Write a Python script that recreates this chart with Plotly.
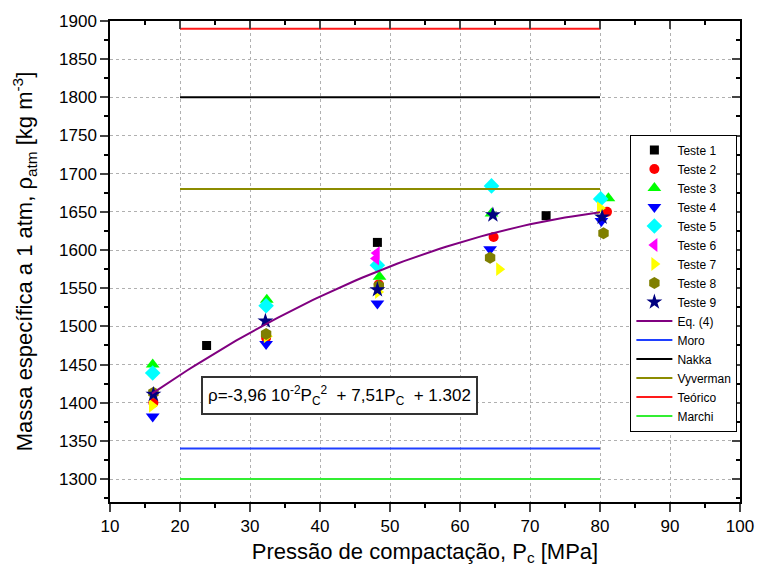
import plotly.graph_objects as go

# ---- data ----
t1_x = [23.8, 48.2, 72.3]
t1_y = [1475, 1610, 1645]
t2_x = [16.2, 32.3, 48.4, 64.8, 81.0]
t2_y = [1400, 1485, 1555, 1617, 1650]
t3_x = [16.1, 32.4, 48.5, 64.5, 81.2]
t3_y = [1450, 1535, 1565, 1648, 1668]
t4_x = [16.1, 32.3, 48.2, 64.3, 80.2]
t4_y = [1382, 1477, 1530, 1601, 1638]
t5_x = [16.1, 32.3, 48.2, 64.5, 80.1]
t5_y = [1439, 1527, 1580, 1684, 1667]
t6_x = [48.1, 48.0]
t6_y = [1596, 1589]
t7_x = [16.0, 32.4, 48.3, 65.6, 80.0]
t7_y = [1396, 1487, 1545, 1575, 1655]
t8_x = [16.2, 32.3, 48.4, 64.3, 80.5]
t8_y = [1413, 1490, 1553, 1590, 1622]
t9_x = [16.2, 32.2, 48.2, 64.7, 80.3]
t9_y = [1411, 1507, 1548, 1646, 1643]

eq_coef = [-3.96e-2, 7.51, 1302]
eq_x_range = [16, 80]

ref_names = ["Moro", "Nakka", "Vyverman", "Teórico", "Marchi"]
ref_values = [1340, 1800, 1680, 1890, 1300]
ref_colors = ["#1f3fff", "#000000", "#8c8c00", "#ff1a1a", "#33ee33"]
ref_x = [20, 80]

tests = [
    ("Teste 1", t1_x, t1_y, "square", "#000000", 9),
    ("Teste 2", t2_x, t2_y, "circle", "#ff0000", 10),
    ("Teste 3", t3_x, t3_y, "triangle-up", "#00ff00", 12),
    ("Teste 4", t4_x, t4_y, "triangle-down", "#0000ff", 12),
    ("Teste 5", t5_x, t5_y, "diamond", "#00ffff", 12),
    ("Teste 6", t6_x, t6_y, "triangle-left", "#ff00ff", 12),
    ("Teste 7", t7_x, t7_y, "triangle-right", "#ffff00", 12),
    ("Teste 8", t8_x, t8_y, "hexagon", "#7f7f00", 12),
    ("Teste 9", t9_x, t9_y, "star", "#000080", 12),
]

fig = go.Figure()
for name, xs, ys, sym, col, sz in tests:
    fig.add_trace(go.Scatter(x=xs, y=ys, mode="markers", name=name,
                             marker=dict(symbol=sym, color=col, size=sz, line=dict(width=0))))

n = 65
ex = [eq_x_range[0] + (eq_x_range[1] - eq_x_range[0]) * i / (n - 1) for i in range(n)]
ey = [eq_coef[0] * v * v + eq_coef[1] * v + eq_coef[2] for v in ex]
fig.add_trace(go.Scatter(x=ex, y=ey, mode="lines", name="Eq. (4)",
                         line=dict(color="#800080", width=2)))

for name, val, col in zip(ref_names, ref_values, ref_colors):
    fig.add_trace(go.Scatter(x=ref_x, y=[val, val], mode="lines", name=name,
                             line=dict(color=col, width=2)))

# invisible trace for mirror axes
fig.add_trace(go.Scatter(x=[50], y=[1500], xaxis="x2", yaxis="y2", mode="markers",
                         marker=dict(opacity=0), showlegend=False, hoverinfo="skip"))

font_family = "Liberation Sans, Arial, sans-serif"

fig.update_layout(
    width=766, height=572,
    margin=dict(l=110, r=16, t=21, b=67),
    paper_bgcolor="white", plot_bgcolor="white",
    font=dict(family=font_family, color="black", size=17),
    showlegend=True,
    legend=dict(x=0.826, y=0.764, xanchor="left", yanchor="top",
                bordercolor="black", borderwidth=1, bgcolor="white",
                font=dict(size=12, family=font_family), itemwidth=36,
                tracegroupgap=0),
    xaxis=dict(range=[10, 100], dtick=10, tick0=0, ticks="outside", ticklen=8,
               tickwidth=1.5, showline=True, linecolor="black", linewidth=1.5,
               showgrid=True, gridcolor="#b0b0b0", griddash="dot", gridwidth=1,
               zeroline=False,
               minor=dict(ticks="outside", ticklen=4, dtick=5, tickcolor="black", showgrid=False),
               title=dict(text="Pressão de compactação, P<sub>c</sub> [MPa]",
                          font=dict(size=22), standoff=8),
               tickfont=dict(size=17)),
    yaxis=dict(range=[1270, 1900], dtick=50, tick0=0, ticks="outside", ticklen=8,
               tickwidth=1.5, showline=True, linecolor="black", linewidth=1.5,
               showgrid=True, gridcolor="#b0b0b0", griddash="dot", gridwidth=1,
               zeroline=False,
               minor=dict(ticks="outside", ticklen=4, dtick=25, tickcolor="black", showgrid=False),
               title=dict(text="Massa específica a 1 atm, ρ<sub>atm</sub> [kg m<sup>-3</sup>]",
                          font=dict(size=22), standoff=20),
               tickfont=dict(size=17)),
    xaxis2=dict(range=[10, 100], dtick=10, tick0=0, overlaying="x", side="top",
                ticks="inside", ticklen=8, tickwidth=1.5, showline=True, linecolor="black",
                linewidth=1.5, showticklabels=False, showgrid=False, zeroline=False,
                minor=dict(ticks="inside", ticklen=4, dtick=5, tickcolor="black")),
    yaxis2=dict(range=[1270, 1900], dtick=50, tick0=0, overlaying="y", side="right",
                ticks="inside", ticklen=8, tickwidth=1.5, showline=True, linecolor="black",
                linewidth=1.5, showticklabels=False, showgrid=False, zeroline=False,
                minor=dict(ticks="inside", ticklen=4, dtick=25, tickcolor="black")),
)

fig.add_annotation(x=42.8, y=1409, xref="x", yref="y",
                   text="ρ=-3,96 10<sup>-2</sup>P<sub>C</sub><sup>2</sup>  + 7,51P<sub>C</sub>  + 1.302",
                   showarrow=False, font=dict(size=17, family=font_family),
                   bordercolor="#333333", borderwidth=2, borderpad=5, bgcolor="white")

fig.write_html("out.html")
